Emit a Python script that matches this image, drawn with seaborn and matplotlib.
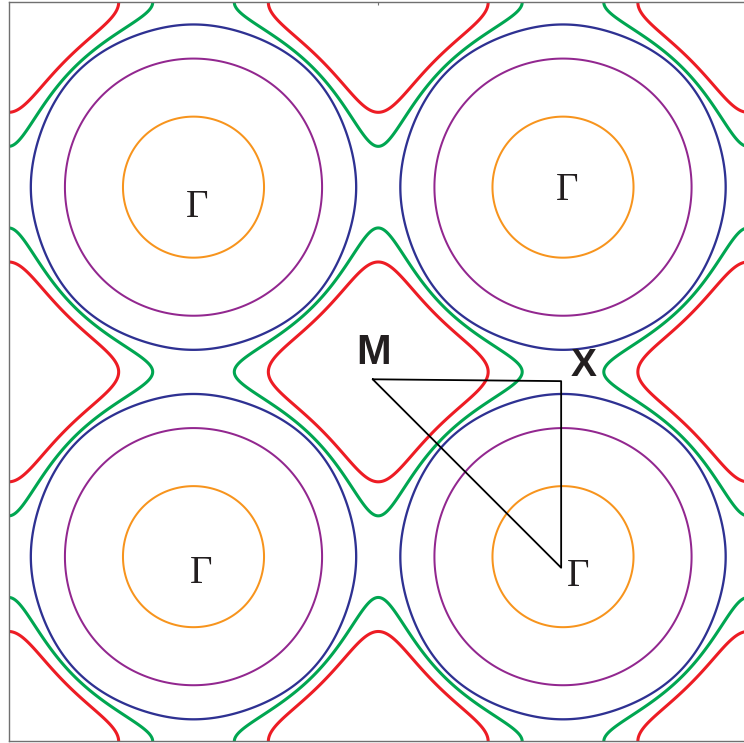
import numpy as np
import pandas as pd
import matplotlib
matplotlib.use("Agg")
import matplotlib.pyplot as plt
import seaborn as sns

# Tight-binding bands  E(k) = -2 t1 (cos kx + cos ky) - 4 t2 cos kx cos ky
t1 = 0.5

# Constant-energy cuts: energy, next-neighbour hopping of the band, styling
levels = [-1.61, -0.03, 0.656, 0.754, 0.906]
level_t2 = [0.17, 0.17, 0.195, 0.17, 0.17]
level_colors = ["#F7941D", "#92278F", "#2E3192", "#00A651", "#ED1C24"]
level_widths = [1.45, 1.45, 1.65, 2.2, 2.2]

# High-symmetry path M -> X -> Gamma -> M (units of pi)
path_kx = [0.97, 1.99, 1.99, 0.97]
path_ky = [0.96, 0.95, -0.06, 0.96]

sns.set_theme(style="white")

fig = plt.figure(figsize=(7.44, 7.43), dpi=100)
ax = fig.add_axes([8.75 / 744, 1.6 / 743, 739 / 744, 739 / 743])

k = np.linspace(-np.pi, 3 * np.pi, 1201)
KX, KY = np.meshgrid(k, k)
CX, CY = np.cos(KX), np.cos(KY)

for level, t2, col, lw in zip(levels, level_t2, level_colors, level_widths):
    E = -2 * t1 * (CX + CY) - 4 * t2 * CX * CY
    ax.contour(KX, KY, E, levels=[level], colors=[col],
               linewidths=lw, linestyles="solid")

path = pd.DataFrame({"kx": np.array(path_kx) * np.pi,
                     "ky": np.array(path_ky) * np.pi,
                     "order": range(len(path_kx))})
sns.lineplot(data=path, x="kx", y="ky", sort=False, estimator=None,
             color="black", linewidth=1.3, ax=ax)

gamma_font = dict(family="Liberation Serif", fontsize=28, color="#231F20",
                  ha="center", va="baseline")
for gx, gy in [(0.022, 1.839), (2.022, 1.932), (0.041, -0.141), (2.081, -0.157)]:
    ax.text(gx * np.pi, gy * np.pi, "\u0393", **gamma_font)

bold_font = dict(family="Liberation Sans", fontweight="bold", color="#231F20",
                 ha="center", va="baseline")
ax.text(0.973 * np.pi, 1.045 * np.pi, "M", fontsize=30, **bold_font)
ax.text(2.114 * np.pi, 0.976 * np.pi, "X", fontsize=28, **bold_font)

ax.set_xlim(-np.pi, 3 * np.pi)
ax.set_ylim(-np.pi, 3 * np.pi)
ax.set_xlabel("")
ax.set_ylabel("")
ax.set_xticks([np.pi])
ax.set_yticks([])
ax.tick_params(axis="x", top=True, bottom=False, labeltop=False,
               labelbottom=False, direction="in", length=2.5,
               color="#707070", width=0.8)
for side in ax.spines.values():
    side.set_color("#707070")
    side.set_linewidth(1.0)

fig.savefig("out.png", dpi=100)
